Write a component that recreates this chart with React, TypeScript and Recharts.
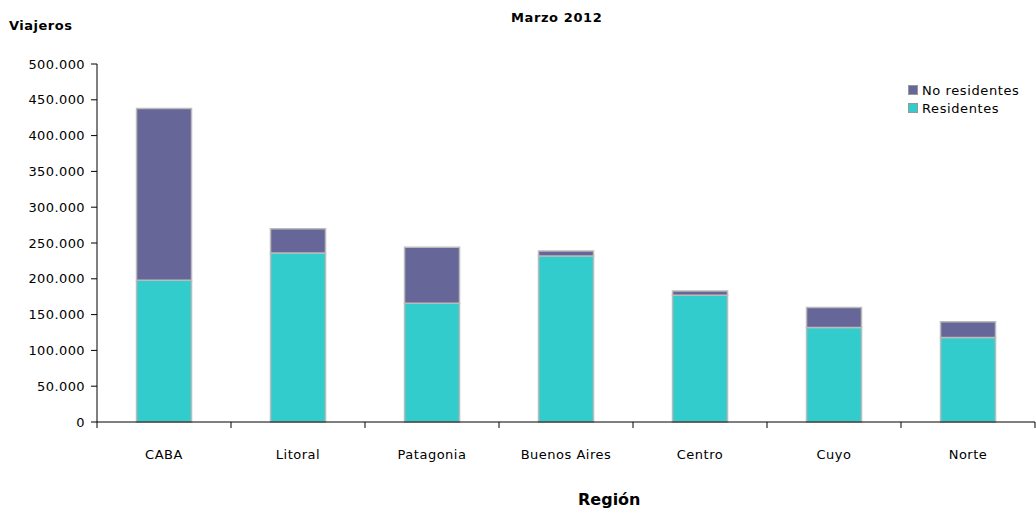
import { Bar, BarChart, XAxis, YAxis } from "recharts";

const REGIONES = ["CABA", "Litoral", "Patagonia", "Buenos Aires", "Centro", "Cuyo", "Norte"];
const RESIDENTES = [198000, 236000, 166000, 232000, 177000, 132000, 118000];
const NO_RESIDENTES = [240000, 34000, 78000, 7000, 6000, 28000, 22000];
const Y_TICKS = [0, 50000, 100000, 150000, 200000, 250000, 300000, 350000, 400000, 450000, 500000];

const SERIES = [
	{ key: "noResidentes", name: "No residentes", color: "#666699" },
	{ key: "residentes", name: "Residentes", color: "#33CCCC" },
];

const data = REGIONES.map((region, i) => ({
	region,
	residentes: RESIDENTES[i],
	noResidentes: NO_RESIDENTES[i],
}));

const FONT = "'DejaVu Sans', Verdana, sans-serif";

const fmt = (v: number) => String(v).replace(/\B(?=(\d{3})+(?!\d))/g, ".");

// category tick: label in the middle, tick marks on the band edges
function RegionTick(props: any) {
	const { x, y, payload, index, visibleTicksCount } = props;
	const half = payload.offset ?? 0;
	const last = index === visibleTicksCount - 1;
	return (
		<g>
			<line x1={x - half} x2={x - half} y1={422} y2={428} stroke="#000" />
			{last && <line x1={x + half} x2={x + half} y1={422} y2={428} stroke="#000" />}
			<text
				x={x}
				y={y}
				dy="0.71em"
				textAnchor="middle"
				fill="#000"
				fontSize={13}
				fontFamily={FONT}
				letterSpacing={0.5}
			>
				{payload.value}
			</text>
		</g>
	);
}

function LegendBox() {
	return (
		<div style={{ fontFamily: FONT, fontSize: 13, letterSpacing: 0.6, color: "#000" }}>
			{SERIES.map((s) => (
				<div key={s.key} style={{ display: "flex", alignItems: "center", height: 18 }}>
					<span
						style={{
							width: 8,
							height: 8,
							background: s.color,
							border: "1px solid #999",
							marginRight: 4,
						}}
					/>
					{s.name}
				</div>
			))}
		</div>
	);
}

export default function App() {
	return (
		<div
			style={{
				position: "absolute",
				left: 0,
				top: 0,
				width: 1036,
				height: 511,
				background: "#fff",
				fontFamily: FONT,
			}}
		>
			<div style={{ position: "absolute", left: 9, top: 18, fontSize: 13, fontWeight: "bold", letterSpacing: 0.5 }}>
				Viajeros
			</div>
			<div style={{ position: "absolute", left: 511, top: 10, fontSize: 13, fontWeight: "bold", letterSpacing: 0.6 }}>
				Marzo 2012
			</div>
			<div style={{ position: "absolute", left: 578, top: 490, fontSize: 16, fontWeight: "bold" }}>
				Región
			</div>
			<div style={{ position: "absolute", left: 908, top: 81 }}>
				<LegendBox />
			</div>
			<BarChart
				width={1036}
				height={511}
				data={data}
				margin={{ top: 64, right: 1, bottom: 44, left: 0 }}
				barCategoryGap="29.5%"
			>
				<XAxis
					dataKey="region"
					height={45}
					axisLine={{ stroke: "#000" }}
					tickLine={false}
					tickSize={0}
					tickMargin={28}
					tick={<RegionTick />}
					interval={0}
				/>
				<YAxis
					width={97}
					domain={[0, 500000]}
					ticks={Y_TICKS}
					interval={0}
					tickFormatter={fmt}
					axisLine={{ stroke: "#000" }}
					tickLine={{ stroke: "#000" }}
					tickSize={6}
					tickMargin={6}
					tick={{ fill: "#000", fontSize: 13, fontFamily: FONT, letterSpacing: 0.4 }}
				/>
				<Bar
					dataKey="residentes"
					name="Residentes"
					stackId="a"
					fill="#33CCCC"
					stroke="#BBBBBB"
					strokeWidth={1.5}
					isAnimationActive={false}
				/>
				<Bar
					dataKey="noResidentes"
					name="No residentes"
					stackId="a"
					fill="#666699"
					stroke="#BBBBBB"
					strokeWidth={1.5}
					isAnimationActive={false}
				/>
			</BarChart>
		</div>
	);
}
